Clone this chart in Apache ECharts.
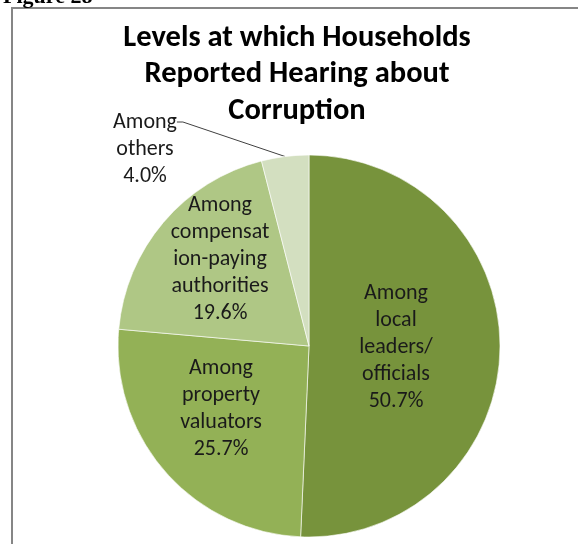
<!DOCTYPE html>
<html>
<head>
<meta charset="utf-8">
<script src="https://cdn.jsdelivr.net/npm/echarts@6/dist/echarts.min.js"></script>
<style>
  html, body { margin: 0; padding: 0; background: #fff; }
  #chart { width: 578px; height: 544px; }
</style>
</head>
<body>
<div id="chart"></div>
<script>
var categories = [
    'Among\nlocal\nleaders/\nofficials',
    'Among\nproperty\nvaluators',
    'Among\ncompensat\nion-paying\nauthorities',
    'Among\nothers'
];
var shares = [50.7, 25.7, 19.6, 4.0];
var sliceColors = ['#77933C', '#93B156', '#AFC785', '#D3DFC0'];

// label centres (layout only)
var labelPos = [[396, 347], [221, 409], [220, 259], [145, 122]];

var font = 'Carlito, Lato, sans-serif';

var myChart = echarts.init(document.getElementById('chart'));

var data = categories.map(function (name, i) {
    var item = {
        name: name,
        value: shares[i],
        itemStyle: { color: sliceColors[i] }
    };
    if (i === 3) {
        item.label = { position: 'outside' };
        item.labelLine = { show: true, length2: 6 };
    }
    return item;
});

var option = {
    animation: false,
    title: {
        text: 'Levels at which Households\nReported Hearing about\nCorruption',
        left: 292,
        top: 15,
        textAlign: 'center',
        textStyle: {
            fontFamily: font,
            fontWeight: 'bold',
            fontSize: 30.5,
            lineHeight: 36.5,
            color: '#000'
        }
    },
    graphic: [
        {
            type: 'rect',
            shape: { x: 12, y: 8, width: 700, height: 700 },
            style: { fill: 'none', stroke: '#868686', lineWidth: 2 },
            z: -1
        },
        {
            type: 'text',
            x: 3,
            y: 8,
            style: {
                text: 'Figure 28',
                font: 'bold 22px "Liberation Serif", serif',
                fill: '#000',
                verticalAlign: 'bottom'
            }
        }
    ],
    series: [{
        type: 'pie',
        center: [309, 346],
        radius: 191,
        startAngle: 90,
        clockwise: true,
        data: data,
        itemStyle: {
            borderColor: 'rgba(255,255,255,0.6)',
            borderWidth: 1
        },
        label: {
            show: true,
            position: 'inside',
            fontFamily: font,
            fontSize: 22,
            lineHeight: 27,
            color: '#1a1a1a',
            formatter: function (p) {
                var txt = p.name + '\n' + p.value.toFixed(1) + '%';
                // two empty lines on top keep the box middle on "Among",
                // so the leader line meets the first line as in the original
                return p.dataIndex === 3 ? '\n\n' + txt : txt;
            }
        },
        labelLine: {
            show: false,
            lineStyle: { color: '#404040', width: 1 }
        },
        labelLayout: function (p) {
            var pos = labelPos[p.dataIndex];
            return { x: pos[0], y: pos[1], align: 'center', verticalAlign: 'middle' };
        }
    }]
};

myChart.setOption(option);
</script>
</body>
</html>
